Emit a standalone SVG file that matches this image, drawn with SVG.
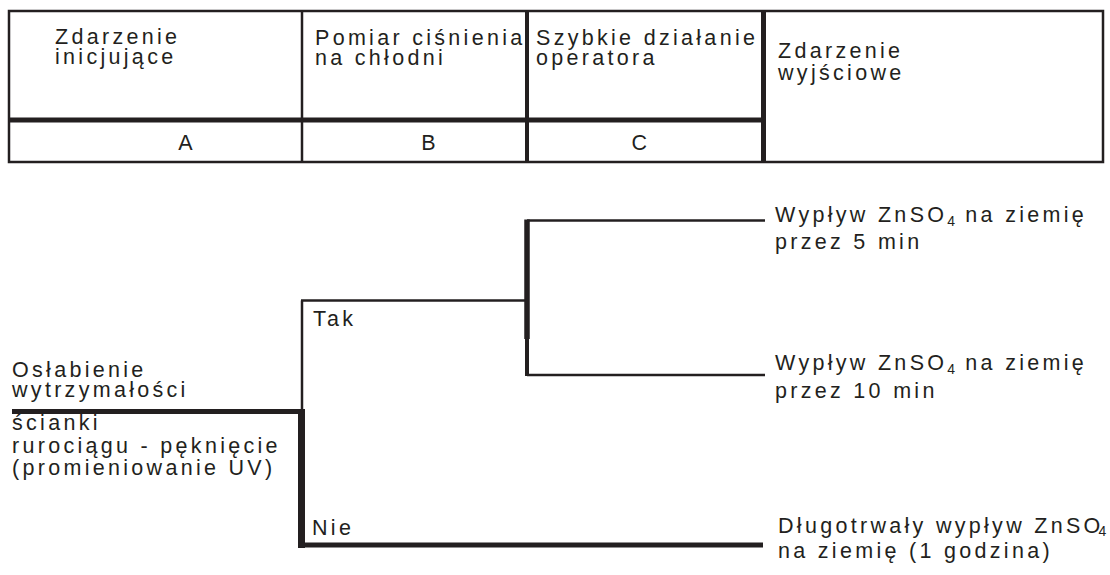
<svg xmlns="http://www.w3.org/2000/svg" width="1110" height="575" viewBox="0 0 1110 575">
<style>
  text { font-family: "Liberation Sans", Arial, sans-serif; font-size: 21.5px; letter-spacing: 3.3px; fill: #231f20; }
  .sub { font-size: 14px; letter-spacing: 1px; }
  .ln { stroke: #231f20; fill: none; stroke-linecap: butt; }
  .thin { stroke-width: 2.5; }
  .mid { stroke-width: 4; }
  .thick { stroke-width: 5; }
</style>
<rect width="1110" height="575" fill="#ffffff"/>

<g id="table">
  <rect class="ln thin" x="9" y="11" width="1094" height="151"/>
  <line class="ln thick" x1="9" y1="120" x2="763" y2="120"/>
  <line class="ln thin" x1="302" y1="11" x2="302" y2="162"/>
  <line class="ln mid" x1="527" y1="11" x2="527" y2="162"/>
  <line class="ln thick" x1="763.5" y1="11" x2="763.5" y2="162"/>
</g>
<g id="col-A">
  <text x="55" y="44">Zdarzenie</text>
  <text x="55" y="64">inicjujące</text>
  <text x="187" y="150" text-anchor="middle">A</text>
</g>
<g id="col-B">
  <text x="315" y="45">Pomiar ciśnienia</text>
  <text x="315" y="65">na chłodni</text>
  <text x="430" y="150" text-anchor="middle">B</text>
</g>
<g id="col-C">
  <text x="536" y="45">Szybkie działanie</text>
  <text x="536" y="65">operatora</text>
  <text x="641" y="150" text-anchor="middle">C</text>
</g>
<g id="col-out">
  <text x="778" y="58">Zdarzenie</text>
  <text x="778" y="80">wyjściowe</text>
</g>

<g id="connectors">
  <line class="ln thick" x1="12" y1="411.5" x2="302" y2="411.5"/>
  <line class="ln" stroke-width="7" x1="301.5" y1="409" x2="301.5" y2="548"/>
  <line class="ln thick" x1="298" y1="545" x2="763" y2="545"/>
  <line class="ln thin" x1="302" y1="300.5" x2="302" y2="412"/>
  <line class="ln thin" x1="301" y1="300.5" x2="527" y2="300.5"/>
  <line class="ln" stroke-width="5.5" x1="527" y1="219.5" x2="527" y2="339"/>
  <line class="ln mid" x1="527" y1="300" x2="527" y2="376"/>
  <line class="ln thin" x1="527" y1="220.5" x2="765" y2="220.5"/>
  <line class="ln thin" x1="527" y1="375" x2="765" y2="375"/>
</g>

<g id="initial-event">
  <text x="12" y="377">Osłabienie</text>
  <text x="12" y="397">wytrzymałości</text>
  <text x="12" y="430">ścianki</text>
  <text x="12" y="453">rurociągu - pęknięcie</text>
  <text x="12" y="475">(promieniowanie UV)</text>
</g>
<g id="label-tak"><text x="313" y="326">Tak</text></g>
<g id="label-nie"><text x="312" y="535">Nie</text></g>

<g id="outcome-1">
  <text x="775" y="222">Wypływ ZnSO<tspan class="sub" dy="4">4</tspan><tspan dy="-4"> na ziemię</tspan></text>
  <text x="775" y="249">przez 5 min</text>
</g>
<g id="outcome-2">
  <text x="775" y="370">Wypływ ZnSO<tspan class="sub" dy="4">4</tspan><tspan dy="-4"> na ziemię</tspan></text>
  <text x="775" y="398">przez 10 min</text>
</g>
<g id="outcome-3">
  <text x="778" y="533">Długotrwały wypływ ZnSO<tspan class="sub" dx="-5" dy="3">4</tspan></text>
  <text x="778" y="558">na ziemię (1 godzina)</text>
</g>
</svg>
